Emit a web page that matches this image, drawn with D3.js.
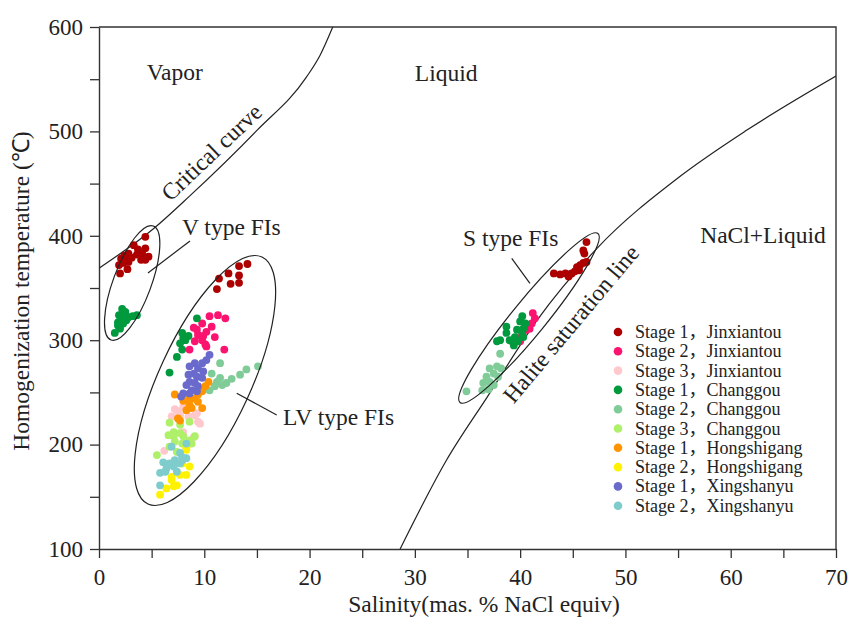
<!DOCTYPE html>
<html>
<head>
<meta charset="utf-8">
<script src="https://cdn.jsdelivr.net/npm/d3@7"></script>
<style>
body { margin: 0; background: #fff; }
svg text { font-family: "Liberation Serif", "Times New Roman", serif; fill: #222; }
svg text.leg { font-family: "Liberation Serif", "Noto Sans CJK SC", serif; }
</style>
</head>
<body>
<svg id="chart" width="853" height="628" font-family="Liberation Serif, Times New Roman, serif"></svg>
<script>
// ticks
var xTicks = [0, 5, 10, 15, 20, 25, 30, 35, 40, 45, 50, 55, 60, 65, 70];
var yTicks = [100, 150, 200, 250, 300, 350, 400, 450, 500, 550, 600];

// series: [salinity, Th]
var stage1Jinxiantou = [
    [4.4,399],[3.3,391],[3.7,387],[4.4,388],[4.1,383],[2.8,383],[2.4,381],[2.1,378],[2.6,377],[3.1,379],
    [3.6,382],[4.0,377],[4.4,377],[4.7,380],[2.3,374],[2.8,375],[1.9,372],[2.7,368],[2.0,364],
    [14.1,373],[13.3,371],[12.3,364],[13.3,362],[11.4,359],[12.5,354],[13.3,355],[11.2,349],
    [46.3,394],[46.0,386],[46.1,383],[46.3,375],[46.0,374],[45.7,372],[45.4,370],[45.6,367],[45.2,366],
    [44.9,364],[44.7,363],[44.3,364],[43.8,363],[43.2,364],[44.6,361]
];
var stage2Jinxiantou = [
    [10.5,323],[11.3,324],[12.0,321],[9.8,316],[9.0,312],[10.7,313],[10.2,308],[9.4,305],[11.0,303],
    [9.8,300],[9.1,299],[10.2,294],[8.6,291],[11.9,291],[9.9,304],[9.3,310],[10.1,296],
    [41.2,326],[41.4,321],[41.1,316],[40.9,311],[40.6,310],[40.2,307],[39.7,302],[40.0,299],[39.2,299]
];
var stage3Jinxiantou = [
    [7.2,234],[8.0,236],[6.9,227],[7.7,228],[8.5,227],[9.1,228],[9.4,222],[9.6,220],[8.0,212],[9.0,207],
    [6.2,194],[9.3,230],[7.5,232]
];
var stage1Changgou = [
    [2.2,330],[2.5,327],[1.9,324],[2.4,323],[2.8,322],[3.2,323],[3.6,324],[2.2,320],[2.6,319],[1.8,317],
    [2.3,316],[2.0,311],[1.5,307],[1.8,314],
    [9.3,321],[7.9,307],[8.5,304],[8.2,300],[7.7,297],[7.9,291],[7.4,284],[6.7,269],[8.0,302],
    [40.2,323],[40.0,318],[40.5,316],[40.3,311],[39.7,310],[40.2,307],[38.7,313],[39.5,303],[39.8,299],
    [39.0,300],[38.1,300],[37.8,299],[38.7,307],[39.4,295],[40.3,303]
];
var stage2Changgou = [
    [11.5,278],[10.7,268],[11.5,264],[11.2,260],[11.7,257],[11.0,256],[12.6,263],[13.4,267],[14.0,272],
    [15.1,275],[12.1,259],[10.5,252],
    [38.1,287],[37.8,275],[37.1,273],[38.2,273],[37.5,268],[36.8,265],[37.9,265],[37.1,260],[36.5,259],
    [37.5,257],[37.0,253],[36.4,252],[34.9,251]
];
var stage3Changgou = [
    [6.7,221],[7.7,219],[8.6,222],[7.1,212],[6.6,209],[7.7,211],[8.0,208],[7.2,203],[8.6,204],[9.1,208],
    [7.9,201],[6.7,198],[8.3,197],[8.8,201],[7.4,193],[5.5,190],[7.1,208]
];
var stage1Hongshigang = [
    [10.4,260],[10.1,256],[9.8,251],[9.4,248],[9.0,244],[8.5,243],[8.0,242],[7.2,248],[8.6,238],[9.4,241],
    [8.8,235],[8.3,233],[7.5,225],[9.8,235],[7.7,223]
];
var stage2Hongshigang = [
    [8.3,195],[7.9,182],[7.7,171],[6.9,166],[6.4,158],[7.4,161],[5.8,152],[8.3,198],[8.6,179],[6.9,169],
    [8.3,171],[7.1,160]
];
var stage1Xingshanyu = [
    [10.5,286],[10.2,281],[9.8,278],[9.1,278],[8.6,275],[9.4,273],[9.9,270],[9.0,268],[8.5,267],[9.3,265],
    [9.8,264],[8.6,260],[9.1,259],[8.3,257],[9.4,256],[8.8,252],[8.0,249],[8.6,249],[9.3,251],[7.8,246]
];
var stage2Xingshanyu = [
    [8.3,201],[6.9,198],[7.7,192],[8.3,187],[7.9,185],[7.2,185],[6.7,182],[6.1,183],[7.7,182],[7.1,179],
    [6.4,177],[5.8,173],[6.3,174],[7.4,174],[7.9,188],[5.8,161]
];

var seriesNames = ["Stage 1，Jinxiantou", "Stage 2，Jinxiantou", "Stage 3，Jinxiantou",
    "Stage 1，Changgou", "Stage 2，Changgou", "Stage 3，Changgou",
    "Stage 1，Hongshigang", "Stage 2，Hongshigang", "Stage 1，Xingshanyu", "Stage 2，Xingshanyu"];
var seriesData = [stage1Jinxiantou, stage2Jinxiantou, stage3Jinxiantou, stage1Changgou, stage2Changgou,
    stage3Changgou, stage1Hongshigang, stage2Hongshigang, stage1Xingshanyu, stage2Xingshanyu];
var seriesColors = ["#ad0000", "#fa1470", "#ffc8cc", "#009a3e", "#80cc99",
    "#aef06a", "#ff9400", "#fff200", "#6a6acd", "#7ecccc"];

// phase boundaries
var criticalCurve = [[0,369],[5.2,407],[8.6,438],[15,501],[19.7,552],[21,573],[22.2,600]];
var haliteLine = [[28.6,100],[33,185],[36.9,246],[41.6,319],[47.3,388],[55.2,457],[61.5,501],[70,553]];

var svg = d3.select("#chart");
var x = d3.scaleLinear().domain([0, 70]).range([99, 836]);
var y = d3.scaleLinear().domain([100, 600]).range([549, 27]);

svg.append("clipPath").attr("id", "plotclip")
    .append("rect").attr("x", 99).attr("y", 27).attr("width", 737).attr("height", 522);

// axes
var xAxis = svg.append("g")
    .attr("transform", "translate(0,549)")
    .call(d3.axisBottom(x).tickValues(xTicks).tickSize(9).tickSizeOuter(0).tickPadding(11)
        .tickFormat(function (d) { return d % 10 === 0 ? d : ""; }));
var yAxis = svg.append("g")
    .attr("transform", "translate(99,0)")
    .call(d3.axisLeft(y).tickValues(yTicks).tickSize(9).tickSizeOuter(0).tickPadding(7)
        .tickFormat(function (d) { return d % 100 === 0 ? d : ""; }));
[xAxis, yAxis].forEach(function (a) {
    a.attr("font-family", null);
    a.select(".domain").attr("stroke", "#333").attr("stroke-width", 1.4);
    a.selectAll(".tick line").attr("stroke", "#333").attr("stroke-width", 1.3);
    a.selectAll(".tick text").attr("font-size", 23).attr("fill", "#222");
});

// frame top/right
svg.append("path")
    .attr("d", "M" + x(0) + "," + y(600) + "H" + x(70) + "V" + y(100))
    .attr("fill", "none").attr("stroke", "#333").attr("stroke-width", 1.4);

// curves
var line = d3.line()
    .x(function (d) { return x(d[0]); })
    .y(function (d) { return y(d[1]); })
    .curve(d3.curveMonotoneX);
svg.append("g").attr("clip-path", "url(#plotclip)")
    .selectAll("path")
    .data([criticalCurve, haliteLine])
    .enter().append("path")
    .attr("d", line)
    .attr("fill", "none").attr("stroke", "#222").attr("stroke-width", 1.2);

// points
seriesData.forEach(function (pts, i) {
    svg.append("g")
        .attr("fill", seriesColors[i])
        .selectAll("circle")
        .data(pts)
        .enter().append("circle")
        .attr("cx", function (d) { return x(d[0]); })
        .attr("cy", function (d) { return y(d[1]); })
        .attr("r", 3.9);
});

// ellipses: ends of the long axis in data units, half width in px
var ellipses = [
    {a: [5.16, 409.4], b: [1.14, 300.2], w: 19},
    {a: [15.48, 379.7], b: [4.65, 143.1], w: 46},
    {a: [47.39, 402.2], b: [34.29, 240.3], w: 17}
];
ellipses.forEach(function (e) {
    var x1 = x(e.a[0]), y1 = y(e.a[1]), x2 = x(e.b[0]), y2 = y(e.b[1]);
    var cx = (x1 + x2) / 2, cy = (y1 + y2) / 2;
    var len = Math.sqrt((x1 - x2) * (x1 - x2) + (y1 - y2) * (y1 - y2)) / 2;
    var ang = Math.atan2(y1 - y2, x1 - x2) * 180 / Math.PI;
    svg.append("ellipse")
        .attr("cx", cx).attr("cy", cy).attr("rx", len).attr("ry", e.w)
        .attr("transform", "rotate(" + ang + "," + cx + "," + cy + ")")
        .attr("fill", "none").attr("stroke", "#222").attr("stroke-width", 1.2);
});

// pointer lines
var pointers = [
    [[8.64, 395], [4.65, 364.4]],
    [[13.08, 249.1], [16.88, 228.4]],
    [[39.2, 378.4], [40.93, 354.5]]
];
pointers.forEach(function (p) {
    svg.append("line")
        .attr("x1", x(p[0][0])).attr("y1", y(p[0][1]))
        .attr("x2", x(p[1][0])).attr("y2", y(p[1][1]))
        .attr("stroke", "#222").attr("stroke-width", 1.2);
});

// labels
var labels = [
    {t: "Vapor", x: 4.53, y: 549},
    {t: "Liquid", x: 30.0, y: 548.3},
    {t: "NaCl+Liquid", x: 57.1, y: 393},
    {t: "V type FIs", x: 7.88, y: 400.8},
    {t: "S type FIs", x: 34.57, y: 390.2},
    {t: "LV type FIs", x: 17.48, y: 218.8}
];
labels.forEach(function (l) {
    svg.append("text")
        .attr("x", x(l.x)).attr("y", y(l.y))
        .attr("font-size", 23.5)
        .text(l.t);
});
svg.append("text")
    .attr("transform", "translate(" + x(11.21) + "," + y(474.5) + ") rotate(-43.5)")
    .attr("text-anchor", "middle").attr("font-size", 23.5)
    .text("Critical curve");
svg.append("text")
    .attr("transform", "translate(577,329) rotate(-50)")
    .attr("text-anchor", "middle").attr("font-size", 23.5)
    .text("Halite saturation line");

// axis titles
svg.append("text")
    .attr("x", 484).attr("y", 612)
    .attr("text-anchor", "middle").attr("font-size", 23.5)
    .text("Salinity(mas. % NaCl equiv)");
svg.append("text")
    .attr("transform", "translate(29,291) rotate(-90)")
    .attr("text-anchor", "middle").attr("font-size", 23.5)
    .text("Homogenization temperature (℃)");

// legend
var legend = svg.append("g")
    .selectAll("g")
    .data(seriesNames)
    .enter().append("g")
    .attr("transform", function (d, i) { return "translate(618," + (332 + i * 19.3) + ")"; });
legend.append("circle")
    .attr("r", 4.3)
    .attr("fill", function (d, i) { return seriesColors[i]; });
legend.append("text")
    .attr("class", "leg")
    .attr("x", 17).attr("y", 6)
    .attr("font-size", 18)
    .text(function (d) { return d; });
</script>
</body>
</html>
